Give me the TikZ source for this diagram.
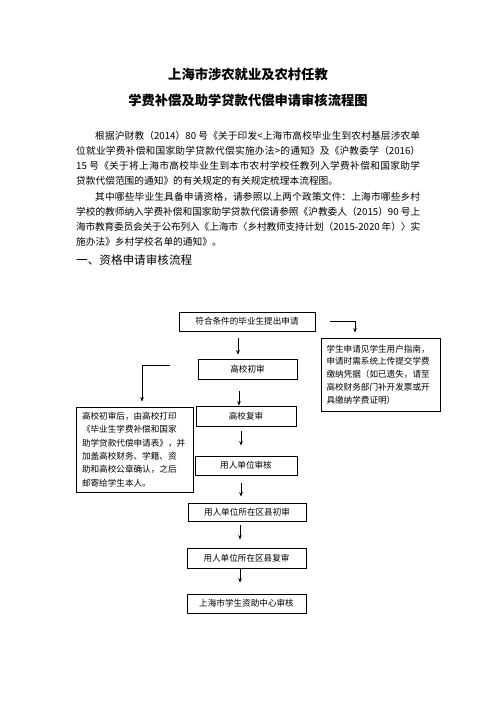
\documentclass[tikz,border=0pt]{standalone}
\usepackage{fontspec}
\setmainfont{Noto Sans CJK SC}
\usetikzlibrary{arrows.meta}
\newcommand\bodyfont{\fontsize{9.7}{15}\selectfont}
\newcommand\jline[4]{\node[anchor=base west,inner sep=0pt,font=\bodyfont] (#1) at #2 {\parbox[b]{#3}{\XeTeXlinebreaklocale "zh"\XeTeXlinebreakskip=0pt plus 2pt minus 0.4pt\relax\XeTeXlinebreakpenalty=10000\relax\exhyphenpenalty=10000\relax\hyphenpenalty=10000\relax\parfillskip=0pt\relax\noindent #4}};}
\begin{document}
\begin{tikzpicture}[x=1pt,y=-1pt,
  box/.style={draw,line width=0.8pt,inner sep=0pt,font=\fontsize{8.6}{10}\selectfont},
  arr/.style={-{Stealth[length=4.5pt,width=3.6pt]},line width=0.7pt},
  plain/.style={anchor=base west,inner sep=0pt,font=\bodyfont}]
\useasboundingbox (0,0) rectangle (496,702);
\fill[white] (0,0) rectangle (496,702);
% title
\node[font=\fontsize{13.3}{16}\selectfont\bfseries,inner sep=0pt,anchor=base] (t1) at (248,79) {上海市涉农就业及农村任教};
\node[font=\fontsize{13.3}{16}\selectfont\bfseries,inner sep=0pt,anchor=base] (t2) at (248,105) {学费补偿及助学贷款代偿申请审核流程图};
% paragraph 1
\jline{p1}{(95,139.7)}{325pt}{根据沪财教（2014）80~号《关于印发<上海市高校毕业生到农村基层涉农单}
\jline{p2}{(76,154.7)}{344pt}{位就业学费补偿和国家助学贷款代偿实施办法>的通知》及《沪教委学（2016）}
\jline{p3}{(76,169.7)}{344pt}{15~号《关于将上海市高校毕业生到本市农村学校任教列入学费补偿和国家助学}
\node[plain] (p4) at (76,184.7) {贷款代偿范围的通知》的有关规定的有关规定梳理本流程图。};
% paragraph 2
\jline{q1}{(95,200.7)}{325pt}{其中哪些毕业生具备申请资格，请参照以上两个政策文件：上海市哪些乡村}
\jline{q2}{(76,215.7)}{344pt}{学校的教师纳入学费补偿和国家助学贷款代偿请参照《沪教委人（2015）90~号上}
\jline{q3}{(76,230.7)}{344pt}{海市教育委员会关于公布列入《上海市〈乡村教师支持计划（2015-2020~年）〉实}
\node[plain] (q4) at (76,245.2) {施办法》乡村学校名单的通知》。};
% heading
\node[anchor=base west,inner sep=0pt,font=\fontsize{11.6}{14}\selectfont] (h1) at (76,264.4) {一、资格申请审核流程};
% flow boxes
\node[box,minimum width=136pt,minimum height=19pt] (b1) at (247,321.5) {符合条件的毕业生提出申请};
\node[box,minimum width=99pt,minimum height=20pt] (b2) at (247.5,369) {高校初审};
\node[box,minimum width=100pt,minimum height=20pt] (b3) at (246,416) {高校复审};
\node[box,minimum width=102pt,minimum height=19pt] (b4) at (246,465.5) {用人单位审核};
\node[box,minimum width=118pt,minimum height=18pt] (b5) at (247,512) {用人单位所在区县初审};
\node[box,minimum width=119pt,minimum height=20pt] (b6) at (246.5,558) {用人单位所在区县复审};
\node[box,minimum width=119pt,minimum height=19pt] (b7) at (246.5,603.5) {上海市学生资助中心审核};
% side boxes
\node[box,minimum width=119pt,minimum height=73pt,text width=108pt,align=left,font=\fontsize{8.6}{12.8}\selectfont] (rb) at (380.5,374.5) {学生申请见学生用户指南，\\申请时需系统上传提交学费\\缴纳凭据（如已遗失，请至\\高校财务部门补开发票或开\\具缴纳学费证明）};
\node[box,minimum width=117pt,minimum height=85pt,text width=105pt,align=left,font=\fontsize{8.6}{13.4}\selectfont] (lb) at (134.5,449.5) {高校初审后，由高校打印\\《毕业生学费补偿和国家\\助学贷款代偿申请表》，并\\加盖高校财务、学籍、资\\助和高校公章确认，之后\\邮寄给学生本人。};
% vertical arrows
\draw[arr,shorten <=7pt,shorten >=4pt] ([xshift=-9pt]b1.south) -- ([xshift=-9pt]b1.south |- b2.north);
\draw[arr,shorten <=12pt,shorten >=0pt] ([xshift=-8.5pt]b2.south) -- ([xshift=-8.5pt]b2.south |- b3.north);
\draw[arr,shorten <=5pt,shorten >=10pt] ([xshift=-5pt]b3.south) -- ([xshift=-5pt]b3.south |- b4.north);
\draw[arr,shorten <=8pt,shorten >=6pt] ([xshift=-5pt]b4.south) -- ([xshift=-5pt]b4.south |- b5.north);
\draw[arr,shorten <=4pt,shorten >=8pt] ([xshift=-7pt]b5.south) -- ([xshift=-7pt]b5.south |- b6.north);
\draw[arr,shorten <=1pt,shorten >=11pt] ([xshift=-6.5pt]b6.south) -- ([xshift=-6.5pt]b6.south |- b7.north);
% side connectors
\coordinate (rs) at (330,321.5);
\draw[arr,shorten >=5pt] (rs) -| ([xshift=-25.5pt]rb.north);
\coordinate (ls) at (170,365);
\draw[arr,shorten >=5pt] (ls) -| ([xshift=7.5pt]lb.north);
\end{tikzpicture}
\end{document}
